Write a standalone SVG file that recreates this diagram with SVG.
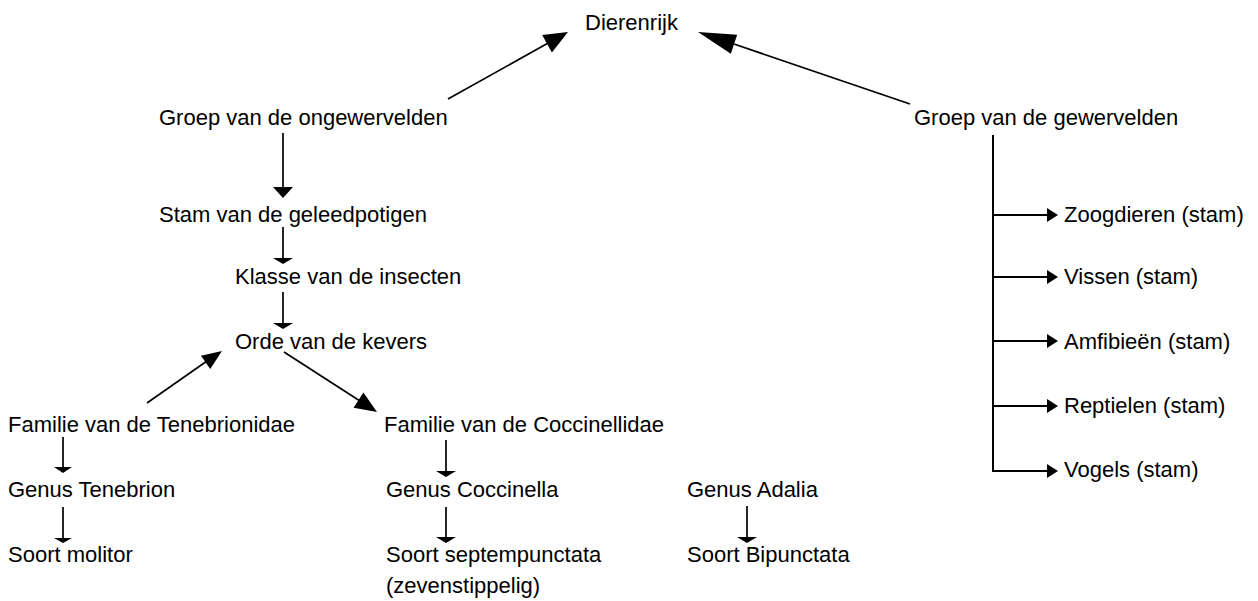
<svg xmlns="http://www.w3.org/2000/svg" width="1258" height="601" viewBox="0 0 1258 601">
<style>
  text { font-family: "Liberation Sans", Arial, sans-serif; font-size: 22px; fill: #000; }
  .ln { stroke: #000; stroke-width: 1.7; fill: none; }
  .br { stroke: #000; stroke-width: 2; fill: none; }
  .hd { fill: #000; stroke: none; }
</style>
<rect width="1258" height="601" fill="#fff"/>
<g id="connectors">
  <line class="ln" x1="448" y1="99" x2="550" y2="42"/>
  <polygon class="hd" points="568,32 551.9,52.4 542.2,35"/>
  <line class="ln" x1="910" y1="104" x2="734" y2="44"/>
  <polygon class="hd" points="698,32 737.2,34.7 730.8,53.7"/>
  <line class="ln" x1="147" y1="403" x2="207" y2="361"/>
  <polygon class="hd" points="222,351 210.2,369 201,355.8"/>
  <line class="ln" x1="284" y1="352" x2="360" y2="401"/>
  <polygon class="hd" points="377,412 353.6,407.7 363.4,392.5"/>
  <line class="ln" x1="283" y1="133" x2="283" y2="190"/>
  <polygon class="hd" points="273,187 293,187 283,198"/>
  <line class="ln" x1="283" y1="227" x2="283" y2="260"/>
  <polygon class="hd" points="273,258 293,258 283,264"/>
  <line class="ln" x1="283" y1="292" x2="283" y2="325"/>
  <polygon class="hd" points="273,323 293,323 283,329"/>
  <line class="ln" x1="63" y1="437" x2="63" y2="469"/>
  <polygon class="hd" points="54,467 72,467 63,473"/>
  <line class="ln" x1="63" y1="507" x2="63" y2="540"/>
  <polygon class="hd" points="54,538 72,538 63,543"/>
  <line class="ln" x1="446" y1="440" x2="446" y2="473"/>
  <polygon class="hd" points="436,471 456,471 446,477"/>
  <line class="ln" x1="446" y1="507" x2="446" y2="539"/>
  <polygon class="hd" points="436,537 456,537 446,543"/>
  <line class="ln" x1="747" y1="506" x2="747" y2="539"/>
  <polygon class="hd" points="737,537 757,537 747,543"/>
  <line class="br" x1="993" y1="135" x2="993" y2="472"/>
  <line class="br" x1="993" y1="215" x2="1048" y2="215"/>
  <polygon class="hd" points="1047,208 1058,215 1047,222"/>
  <line class="br" x1="993" y1="277" x2="1048" y2="277"/>
  <polygon class="hd" points="1047,270 1058,277 1047,284"/>
  <line class="br" x1="993" y1="341" x2="1048" y2="341"/>
  <polygon class="hd" points="1047,334 1058,341 1047,348"/>
  <line class="br" x1="993" y1="406" x2="1048" y2="406"/>
  <polygon class="hd" points="1047,399 1058,406 1047,413"/>
  <line class="br" x1="992" y1="471" x2="1048" y2="471"/>
  <polygon class="hd" points="1047,464 1058,471 1047,478"/>
</g>
<g id="n-dierenrijk"><text x="585" y="30">Dierenrijk</text></g>
<g id="n-ongewervelden"><text x="159" y="125">Groep van de ongewervelden</text></g>
<g id="n-geleedpotigen"><text x="159" y="222">Stam van de geleedpotigen</text></g>
<g id="n-insecten"><text x="235" y="284">Klasse van de insecten</text></g>
<g id="n-kevers"><text x="235" y="349">Orde van de kevers</text></g>
<g id="n-tenebrionidae"><text x="8" y="432">Familie van de Tenebrionidae</text></g>
<g id="n-coccinellidae"><text x="384" y="432">Familie van de Coccinellidae</text></g>
<g id="n-tenebrion"><text x="8" y="497">Genus Tenebrion</text></g>
<g id="n-coccinella"><text x="386" y="497">Genus Coccinella</text></g>
<g id="n-adalia"><text x="687" y="497">Genus Adalia</text></g>
<g id="n-molitor"><text x="8" y="562">Soort molitor</text></g>
<g id="n-septempunctata"><text x="386" y="562">Soort septempunctata</text><text x="386" y="593">(zevenstippelig)</text></g>
<g id="n-bipunctata"><text x="687" y="562">Soort Bipunctata</text></g>
<g id="n-gewervelden"><text x="914" y="125">Groep van de gewervelden</text></g>
<g id="n-zoogdieren"><text x="1064" y="222">Zoogdieren (stam)</text></g>
<g id="n-vissen"><text x="1064" y="284">Vissen (stam)</text></g>
<g id="n-amfibieen"><text x="1064" y="349">Amfibieën (stam)</text></g>
<g id="n-reptielen"><text x="1064" y="413">Reptielen (stam)</text></g>
<g id="n-vogels"><text x="1064" y="477">Vogels (stam)</text></g>
</svg>
